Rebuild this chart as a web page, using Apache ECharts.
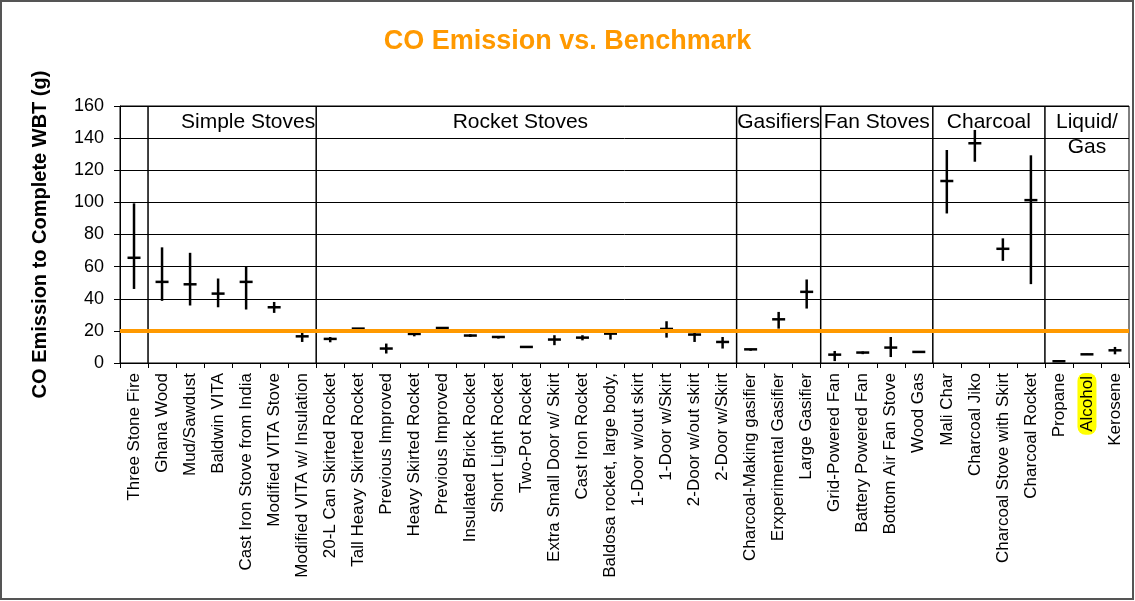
<!DOCTYPE html>
<html>
<head>
<meta charset="utf-8">
<script src="https://cdn.jsdelivr.net/npm/echarts@6/dist/echarts.min.js"></script>
<style>
  html, body { margin: 0; padding: 0; background: #fff; }
  #char1 { width: 1135px; height: 601px; }
</style>
</head>
<body>
<div id="char1"></div>
<script>
// stove names along the bottom axis
var categories = ['Three Stone Fire', 'Ghana Wood', 'Mud/Sawdust', 'Baldwin VITA', 'Cast Iron Stove from India',
    'Modified VITA Stove', 'Modified VITA w/ Insulation', '20-L Can Skirted Rocket', 'Tall Heavy Skirted Rocket',
    'Previous Improved', 'Heavy Skirted Rocket', 'Previous Improved', 'Insulated Brick Rocket', 'Short Light Rocket',
    'Two-Pot Rocket', 'Extra Small Door w/ Skirt', 'Cast Iron Rocket', 'Baldosa rocket, large body,',
    '1-Door w/out skirt', '1-Door w/Skirt', '2-Door w/out skirt', '2-Door w/Skirt', 'Charcoal-Making gasifier',
    'Erxperimental Gasifier', 'Large Gasifier', 'Grid-Powered Fan', 'Battery Powered Fan', 'Bottom Air Fan Stove',
    'Wood Gas', 'Mali Char', 'Charcoal Jiko', 'Charcoal Stove with Skirt', 'Charcoal Rocket',
    'Propane', 'Alcohol', 'Kerosene'];

// mean CO (g) and the ends of the error bars
var means = [65.5, 50.5, 49, 43.2, 50.5, 34.7, 16.6, 15.0, 21.4, 9.0, 18.1, 21.8, 17.1, 16.2, 10.0, 14.6, 15.8, 18.3,
    19.8, 21.2, 17.7, 13.1, 8.5, 27.2, 44.3, 5.2, 6.5, 9.6, 6.9, 113.3, 136.8, 71.1, 101.4, 1.1, 5.4, 7.9];
var lows = [46.1, 38.7, 35.8, 34.7, 33.3, 31.2, 13.1, 12.9, 21.4, 5.9, 16.6, 21.4, 16.2, 15.2, 9.6, 11.1, 14.1, 14.6,
    19.8, 15.8, 13.1, 9.0, 7.6, 21.4, 33.9, 1.2, 5.5, 3.7, 6.5, 93.1, 125.3, 63.6, 49.1, 0.8, 5.0, 5.4];
var highs = [99.4, 72, 68.6, 52.6, 60.3, 38, 19.3, 16.2, 21.4, 12.1, 18.8, 22.3, 17.9, 16.8, 10.4, 17.3, 17.3, 18.9,
    20.2, 26, 19.3, 16.2, 8.9, 31.8, 52, 7.5, 7.2, 16.2, 7.3, 132.6, 145.1, 77.6, 129.3, 1.4, 5.8, 10];

// stove groups (first and last category index)
var groupNames = ['Simple Stoves', 'Rocket Stoves', 'Gasifiers', 'Fan Stoves', 'Charcoal', 'Liquid/\nGas'];
var groupStarts = [1, 7, 22, 25, 29, 33];
var groupEnds = [6, 21, 24, 28, 32, 35];

var yTicks = [0, 20, 40, 60, 80, 100, 120, 140, 160];
var benchmark = 20;

var font = '"Liberation Sans", Arial, sans-serif';
var labelShift = [16, -6, 0, 0, 0, 0]; // nudge of group names, px

var myChart = echarts.init(document.getElementById('char1'));

var markData = categories.map(function (c, i) { return [i, means[i], lows[i], highs[i]]; });
var groupData = groupStarts.map(function (s, i) { return [s, groupEnds[i]]; });

var option = {
    animation: false,
    title: {
        text: 'CO Emission vs. Benchmark',
        left: 'center',
        top: 23,
        textStyle: { color: '#FF9900', fontSize: 27, fontWeight: 'bold', fontFamily: font }
    },
    graphic: [{
        type: 'rect',
        shape: { x: 1, y: 1, width: 1132, height: 598 },
        style: { fill: 'none', stroke: '#555', lineWidth: 2 },
        silent: true
    }],
    grid: { left: 120, right: 6, top: 106, bottom: 238, show: true, borderColor: '#000', borderWidth: 1 },
    xAxis: {
        type: 'category',
        data: categories,
        axisLine: { lineStyle: { color: '#000', width: 1 } },
        axisTick: { show: true, length: 5, lineStyle: { color: '#000' } },
        axisLabel: {
            interval: 0,
            rotate: 90,
            margin: 10,
            color: '#000',
            fontSize: 17,
            fontFamily: font,
            formatter: function (v) { return v === 'Alcohol' ? '{hl|' + v + '}' : v; },
            rich: {
                hl: { backgroundColor: '#FFFF00', borderRadius: 8, padding: [1, 3], fontSize: 17, fontFamily: font, color: '#000' }
            }
        },
        splitLine: { show: false }
    },
    yAxis: {
        type: 'value',
        min: yTicks[0],
        max: yTicks[yTicks.length - 1],
        interval: 20,
        name: 'CO Emission to Complete WBT (g)',
        nameLocation: 'middle',
        nameGap: 70,
        nameTextStyle: { color: '#000', fontSize: 20, fontWeight: 'bold', fontFamily: font },
        axisLine: { show: true, lineStyle: { color: '#000' } },
        axisTick: { show: true, length: 6, lineStyle: { color: '#000' } },
        axisLabel: { color: '#000', fontSize: 18, fontFamily: font, margin: 16 },
        splitLine: { lineStyle: { color: '#000', width: 1 } }
    },
    series: [
        {
            // group separators and names
            name: 'groups',
            type: 'custom',
            silent: true,
            data: groupData,
            renderItem: function (params, api) {
                var band = api.size([1, 0])[0];
                var left = api.coord([api.value(0), 0])[0] - band / 2;
                var right = api.coord([api.value(1), 0])[0] + band / 2;
                var yTop = api.coord([0, yTicks[yTicks.length - 1]])[1];
                var yBot = api.coord([0, 0])[1];
                return {
                    type: 'group',
                    children: [{
                        type: 'line',
                        shape: { x1: left, y1: yTop, x2: left, y2: yBot },
                        style: { stroke: '#000', lineWidth: 1.5 }
                    }, {
                        type: 'text',
                        style: {
                            x: (left + right) / 2 + labelShift[params.dataIndex],
                            y: yTop + 4,
                            text: groupNames[params.dataIndex],
                            align: 'center',
                            verticalAlign: 'top',
                            fontSize: 21,
                            lineHeight: 25,
                            fontFamily: font,
                            fill: '#000'
                        }
                    }]
                };
            }
        },
        {
            // mean tick with min/max bar
            name: 'CO',
            type: 'custom',
            data: markData,
            renderItem: function (params, api) {
                var x = api.value(0);
                var pm = api.coord([x, api.value(1)]);
                var pl = api.coord([x, api.value(2)]);
                var ph = api.coord([x, api.value(3)]);
                var half = 6.5;
                return {
                    type: 'group',
                    children: [{
                        type: 'line',
                        shape: { x1: pl[0], y1: pl[1], x2: ph[0], y2: ph[1] },
                        style: { stroke: '#000', lineWidth: 2.5 }
                    }, {
                        type: 'line',
                        shape: { x1: pm[0] - half, y1: pm[1], x2: pm[0] + half, y2: pm[1] },
                        style: { stroke: '#000', lineWidth: 2.5 }
                    }]
                };
            }
        },
        {
            name: 'Benchmark',
            type: 'line',
            data: [],
            z: 10,
            markLine: {
                silent: true,
                symbol: 'none',
                label: { show: false },
                lineStyle: { color: '#FF9900', width: 4, type: 'solid' },
                data: [{ yAxis: benchmark }]
            }
        }
    ]
};

myChart.setOption(option);
window.addEventListener('resize', function () { myChart.resize(); });
</script>
</body>
</html>
